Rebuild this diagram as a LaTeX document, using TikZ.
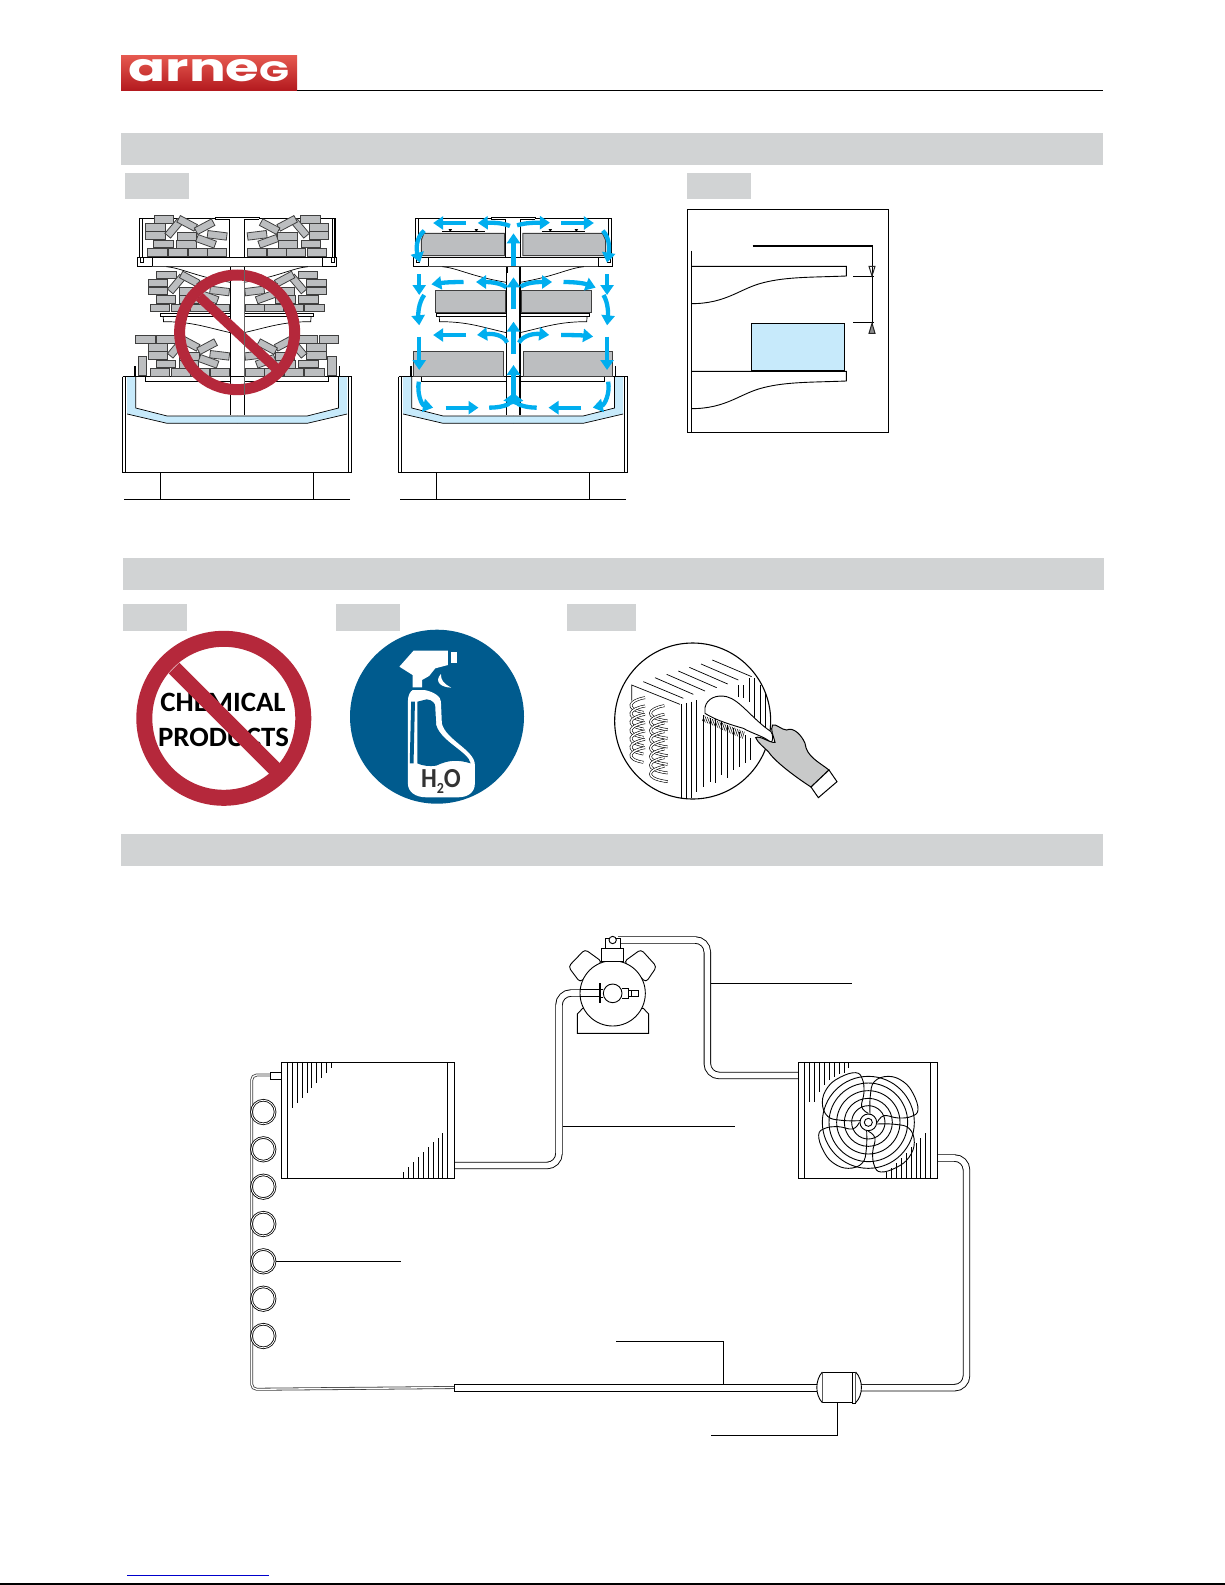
\documentclass[tikz,border=0pt]{standalone}
\usepackage{fontspec}
\usetikzlibrary{arrows.meta,shapes.geometric,calc}
\newfontfamily\carlitofont{Carlito}
\newfontfamily\poppinsfont{Poppins}
\definecolor{barg}{HTML}{D1D3D4}
\definecolor{brickg}{HTML}{BCBEC0}
\definecolor{brickl}{HTML}{3F3F3F}
\definecolor{tubb}{HTML}{C7EAFB}
\definecolor{airb}{HTML}{00AEEF}
\definecolor{nored}{HTML}{B5283B}
\definecolor{signb}{HTML}{005B8E}
\definecolor{glove}{HTML}{C8C9C9}
\definecolor{logoa}{HTML}{E65A50}
\definecolor{logob}{HTML}{DC1F26}
\definecolor{logoc}{HTML}{B3191E}
\tikzset{
 ln/.style={draw=black,line width=.9pt},
 thn/.style={draw=black,line width=.7pt},
 thk/.style={draw=black,line width=1.6pt},
 bar/.style={fill=barg,draw=none},
 brick/.style={fill=brickg,draw=brickl,line width=.8pt},
 prod/.style={fill=brickg,draw=brickl,line width=1pt},
 air/.style={draw=airb,line width=4.3pt,-{Triangle[length=10pt,width=13pt]}},
 pipe/.style={draw=black,line width=.9pt,double=white,double distance=5.6pt,rounded corners=12pt},
 capil/.style={draw=black!75,line width=.8pt,double=white,double distance=1.3pt,rounded corners=5pt},
 coilp/.style={draw=black,line width=.6pt,double=white,double distance=1.5pt},
 zoomA/.style={x=0.35714pt,y=-0.33333pt},
 zoomT/.style={x=0.33333pt,y=-0.33333pt},
 zoomC/.style={x=0.47193pt,y=-0.33333pt},
}
\newcommand\brickR[4]{\draw[brick] (#1,#2) rectangle (#3,#4);}
\newcommand\brickT[3]{\draw[brick,shift={(#1,#2)},rotate=#3] (-27,-11) rectangle (27,11);}
\newcommand\halfbricks{%
 \brickR{124}{527}{178}{549}\brickR{100}{551}{155}{573}\brickR{100}{575}{155}{597}%
 \brickR{122}{600}{177}{622}\brickR{105}{626}{160}{648}\brickR{164}{626}{218}{648}%
 \brickR{219}{626}{272}{648}\brickR{273}{626}{327}{648}\brickR{186}{600}{241}{624}%
 \brickR{188}{576}{242}{600}%
 \brickT{179}{565}{50}\brickT{216}{550}{-28}\brickT{265}{560}{28}\brickT{300}{586}{-7}\brickT{269}{604}{-20}%
}
\newcommand\sidebricks{%
 \halfbricks
 \begin{scope}[shift={(7,167)}]\halfbricks\end{scope}
 \begin{scope}[shift={(7,360)}]\halfbricks\end{scope}
 \brickR{72}{887}{127}{909}\brickR{79}{950}{102}{1007}%
}
\newcommand\halfshell{%
 % one half of the display, left side
 \draw[thn] (82,652)--(82,535)--(295,535)--(295,532)--(356,532);
 \draw[thn] (90,538)--(90,652);
 \draw[thn] (295,538)--(335,538)--(335,652);
 \draw[ln] (77,652) rectangle (118,680);
 \draw[thn] (85,652)--(85,668)--(92,668)--(92,652);
 \draw[thn] (118,652)--(356,652);
 \draw[line width=1.2pt,draw=black!75] (118,680)--(356,680);
 \draw[thn] (337,680)--(337,1125);
 \draw[thn] (158,680) .. controls (200,684) and (240,710) .. (337,727);
 \draw[thn] (142,820) rectangle (337,830);
 \draw[thn] (149,830)--(150,845) .. controls (230,845) and (270,862) .. (337,878);
 \draw[line width=1.1pt,black] (70,978)--(70,1010);
 \draw[thn] (100,1010)--(100,1025)--(337,1025);
 \fill[tubb] (48,1010)--(48,1122)--(160,1150)--(356,1150)--(356,1128)--(160,1128)--(72,1104)--(72,1010)--cycle;
 \draw[thn] (72,1010)--(72,1104)--(160,1128)--(356,1128);
 \draw[thn] (48,1122)--(160,1150)--(356,1150);
 \draw[thn] (44,1010)--(44,1298);
 \draw[ln] (35,1010)--(35,1298)--(356,1298);
 \draw[ln] (141,1298)--(141,1378);
 \draw[ln] (40,1378)--(356,1378);
}
\newcommand\shell{%
 \halfshell
 \begin{scope}[shift={(712,0)},xscale=-1]\halfshell\end{scope}
 \draw[thk] (35,1010)--(677,1010);
}
\begin{document}
\begin{tikzpicture}[x=1pt,y=-1pt]
\useasboundingbox (0,0) rectangle (1225,1585);
\fill[white] (0,0) rectangle (1225,1585);

%% header
\shade[top color=logoa,middle color=logob,bottom color=logoc] (121,55) rectangle (297,90.7);
\node[text=white,inner sep=0pt] (logo) at (209,70.5) {\scalebox{1.4}[1]{\poppinsfont\bfseries\fontsize{39}{39}\selectfont arne\raisebox{0pt}{\scalebox{.72}{G}}}};
\draw[line width=1pt] (297,90.5)--(1103,90.5);

%% section bars
\path[bar] (121,133) rectangle (1103,165);
\path[bar] (123,558) rectangle (1104,590);
\path[bar] (121,834) rectangle (1103,866);
\path[bar] (125,173) rectangle (189,199);
\path[bar] (687,173) rectangle (751,199);
\path[bar] (123,604) rectangle (187,631);
\path[bar] (336,604) rectangle (400,631);
\path[bar] (567,604) rectangle (636,631);

%% left display, overloaded
\begin{scope}[shift={(110,40)},zoomA]
 \shell
 \draw[line width=1.4pt,black] (628,535)--(628,668);
 \sidebricks
 \begin{scope}[shift={(712,0)},xscale=-1]\sidebricks\end{scope}
 \draw[nored,line width=11pt] (356,877) ellipse (161 and 172);
 \draw[nored,line width=10pt] (250,770)--(465,985);
 \draw[black!60,line width=.5pt] (375,690)--(375,1065);
\end{scope}

%% right display, correct load
\begin{scope}[shift={(386,40)},zoomA]
 \shell
 \draw[thk] (338,680)--(338,700);
 \draw[line width=1.5pt] (375,680)--(375,1125);
 % goods
 \draw[prod] (99,600)--(106,580)--(332,580)--(332,647)--(99,647)--cycle;
 \draw[prod] (383,580)--(606,580)--(615,600)--(615,647)--(383,647)--cycle;
 \draw[prod] (139,750) rectangle (335,817);
 \draw[prod] (379,750) rectangle (575,817);
 \draw[prod] (77,935) rectangle (329,1010);
 \draw[prod] (384,935) rectangle (635,1010);
 % small lamps
 \foreach \sx in {157,437}{
  \draw[thn] (\sx,574)--(\sx+120,574);
  \fill (\sx+18,567)--(\sx+28,567)--(\sx+23,576)--cycle;
  \fill (\sx+91,567)--(\sx+101,567)--(\sx+96,576)--cycle;
 }
 % air flow, top row
 \draw[air] (224,549)--(132,549);
 \draw[air] (347,558) .. controls (325,548) and (300,548) .. (257,549);
 \draw[air] (367,556) .. controls (390,548) and (420,548) .. (459,548);
 \draw[air] (490,549)--(582,549);
 \draw[air] (107,572) .. controls (82,595) and (85,630) .. (95,668);
 \draw[air] (607,572) .. controls (628,595) and (625,630) .. (619,668);
 \draw[air] (357,678)--(357,580);
 % middle row
 \draw[air] (217,726) .. controls (180,726) and (160,728) .. (127,733);
 \draw[air] (337,742) .. controls (320,728) and (290,726) .. (252,726);
 \draw[air] (377,740) .. controls (395,727) and (425,726) .. (465,726);
 \draw[air] (497,726) .. controls (530,726) and (555,730) .. (587,743);
 \draw[air] (93,703)--(93,765);
 \draw[air] (619,703)--(619,765);
 \draw[air] (107,765) .. controls (90,790) and (90,825) .. (93,856);
 \draw[air] (609,765) .. controls (623,790) and (622,825) .. (619,856);
 \draw[air] (357,808)--(357,712);
 % third row
 \draw[air] (224,885)--(132,885);
 \draw[air] (339,908) .. controls (330,885) and (300,880) .. (255,885);
 \draw[air] (372,908) .. controls (385,885) and (415,880) .. (457,885);
 \draw[air] (490,885) .. controls (520,885) and (550,886) .. (580,890);
 \draw[air] (93,890)--(93,990);
 \draw[air] (619,890)--(619,990);
 \draw[air] (357,942)--(357,845);
 % bottom
 \draw[air] (357,1090)--(357,975);
 \draw[air] (289,1103) .. controls (320,1103) and (345,1095) .. (356,1060);
 \draw[air] (422,1103) .. controls (395,1103) and (368,1095) .. (358,1060);
 \draw[air] (167,1103)--(259,1103);
 \draw[air] (547,1103)--(455,1103);
 \draw[air] (92,1025) .. controls (86,1060) and (100,1095) .. (132,1103);
 \draw[air] (622,1025) .. controls (628,1060) and (612,1095) .. (579,1103);
\end{scope}

%% shelf distance detail
\begin{scope}[shift={(670,160)},zoomT]
 \draw[ln] (52,149) rectangle (655,817);
 \draw[ln] (64,272)--(64,817);
 \foreach \dy in {0,315}{
  \draw[ln] (64,319+\dy)--(529,319+\dy)--(529,348+\dy) .. controls (430,352+\dy) and (350,350+\dy) .. (280,368+\dy) .. controls (210,385+\dy) and (170,431+\dy) .. (64,431+\dy);
 }
 \draw[fill=tubb,line width=.9pt] (244,490) rectangle (524,632);
 \draw[thk] (244,633)--(524,633);
 \draw[line width=2pt] (248,258)--(608,258);
 \draw[ln] (608,258)--(608,520);
 \draw[ln] (550,350)--(612,350);
 \draw[ln] (550,488)--(612,488);
 \draw[line width=1pt,draw=black!85] (597,319)--(615,319)--(606,348)--cycle;
 \draw[line width=1pt,draw=black!85,fill=black!45] (597,520)--(615,520)--(606,490)--cycle;
\end{scope}

%% no chemical products
\node[inner sep=0pt] (chem) at (223,702) {\scalebox{1.03}[1]{\carlitofont\bfseries\fontsize{28}{28}\selectfont CHEMICAL}};
\node[inner sep=0pt] (prods) at (223.5,737) {\scalebox{1.03}[1]{\carlitofont\bfseries\fontsize{28}{28}\selectfont PRODUCTS}};
\draw[nored,line width=16pt] (223.8,718.3) circle (79.5);
\draw[nored,line width=15pt] (174,668)--(276,770);

%% water spray sign
\fill[signb] (437,716.7) circle (87);
\begin{scope}[shift={(120,600)},zoomC]
 \fill[white] (622,152)--(695,152)--(695,195)--(668,205)--(655,228)--(640,240)--(640,262)--(620,262)--(620,225)--(592,200)--cycle;
 \fill[white] (702,155) rectangle (714,190);
 \fill[white] (680,222) .. controls (665,245) and (680,262) .. (702,263) .. controls (685,250) and (680,240) .. (680,222)--cycle;
 \fill[white] (620,270)--(645,270) .. controls (665,275) and (680,290) .. (680,305)--(682,370) .. controls (690,420) and (752,450) .. (752,495)--(752,550) .. controls (752,580) and (735,592) .. (715,592)--(650,592) .. controls (625,592) and (610,575) .. (610,550)--(610,305) .. controls (610,285) and (615,275) .. (620,270)--cycle;
 \fill[signb] (630,305)--(650,298) .. controls (662,300) and (668,310) .. (668,320)--(670,375) .. controls (680,425) and (738,455) .. (743,490) .. controls (715,478) and (695,480) .. (670,497) .. controls (655,500) and (640,497) .. (630,490)--cycle;
 \fill[signb] (617,305)--(625,305)--(622,490)--(614,490)--cycle;
 \node[inner sep=0pt,text=black!80] (water) at (680,543) {\scalebox{1}[1.1]{\carlitofont\bfseries\fontsize{25}{25}\selectfont H\raisebox{-.22em}{\fontsize{14}{14}\selectfont 2}O}};
\end{scope}

%% coil cleaning
\begin{scope}[shift={(605,635)},zoomT]
 \draw[line width=1.1pt] (263,258) circle (234);
 \draw[thn] (80,197)--(80,150)--(225,208);
 \foreach \xa/\ya/\xb/\yb in {115/140/235/190,150/128/265/178,185/118/300/168,220/108/335/158,253/97/368/147,288/87/400/135,322/75/440/125}
  \draw[thn] (\xa,\ya)--(\xb,\yb);
 \foreach \xv/\ya/\yb in {228/208/489,243/205/491,258/200/489,275/195/470,295/240/455,315/250/440,332/250/445,350/260/420,367/270/430,385/280/405,402/290/395,420/300/385,437/310/375,
   400/150/185,415/150/190,432/130/200,448/130/250,465/150/270,480/170/290}
  \draw[thn] (\xv,\ya)--(\xv,\yb);
 \foreach \i in {0,...,6}{
  \draw[coilp] (120,{188+25*\i}) .. controls (72,{196+25*\i}) and (58,{222+25*\i}) .. (115,{232+25*\i});
 }
 \foreach \i in {0,...,7}{
  \draw[coilp] (178,{212+26*\i}) .. controls (130,{220+26*\i}) and (112,{248+26*\i}) .. (188,{258+26*\i});
 }
 % brush
 \foreach \i in {0,...,24}
  \draw[line width=.5pt] ({298+\i*5},{242+\i*2})--({292+\i*5},{258+\i*2.2});
 \draw[fill=white,line width=.9pt] (300,218) .. controls (305,190) and (335,178) .. (365,185) .. controls (405,195) and (440,250) .. (498,290) .. controls (505,300) and (505,320) .. (497,322) .. controls (480,305) and (440,295) .. (415,280) .. controls (380,270) and (330,255) .. (300,235)--cycle;
 % hand
 \draw[fill=glove,line width=1pt] (452,308) .. controls (465,300) and (495,325) .. (510,322) .. controls (505,300) and (495,285) .. (503,270) .. controls (512,265) and (530,285) .. (545,285) .. controls (565,275) and (590,300) .. (600,325) .. controls (605,365) and (640,380) .. (672,405)--(618,456) .. controls (570,425) and (510,380) .. (490,350) .. controls (475,335) and (460,325) .. (452,308)--cycle;
 \draw[fill=white,line width=1pt] (672,405)--(696,440)--(640,488)--(618,456)--cycle;
\end{scope}

%% refrigeration circuit
% pipes
\draw[pipe] (454,1165.5)--(559,1165.5)--(559,993)--(598,993);
\draw[pipe] (618,940)--(707.3,940)--(707.3,1075.5)--(798,1075.5);
\draw[pipe] (938,1158)--(966.5,1158)--(966.5,1387.7)--(850,1387.7);
\draw[capil] (454,1387.5)--(251.7,1389.3)--(251.7,1075)--(272,1075);
\draw[ln] (454,1384.4)--(818,1384.4) (454,1391.1)--(818,1391.1);
\draw[ln] (454,1384.4)--(454,1391.1);
% expansion coils
\foreach \cy in {1112,1149.3,1186.7,1224,1261.3,1298.7,1336}
 \draw[draw=black,line width=.8pt,double=white,double distance=.9pt] (263.3,\cy) circle (11.8);
\draw[ln,fill=white] (270.7,1072) rectangle (281.3,1079.3);

% evaporator
\begin{scope}[shift={(230,1050)},zoomT]
 \draw[ln,fill=white] (154,37) rectangle (673,385);
 \draw[ln] (172,37)--(172,385) (652,37)--(652,385);
 \foreach \xv/\yv in {187/173,202/158,217/143,232/128,245/113,260/98,275/85,290/70,305/55}
  \draw[thn] (\xv,37)--(\xv,\yv);
 \foreach \xv/\yv in {520/367,535/352,550/337,565/322,580/307,595/292,610/277,625/263,638/248}
  \draw[thn] (\xv,385)--(\xv,\yv);
\end{scope}

% compressor and condenser
\begin{scope}[shift={(540,920)},zoomT]
 \draw[ln,rounded corners=3.5pt,fill=white] (120,187)--(85,140)--(135,88)--(186,125)--cycle;
 \draw[ln,rounded corners=3.5pt,fill=white] (318,187)--(350,140)--(303,88)--(252,125)--cycle;
 \draw[ln,fill=white] (128,265)--(112,282)--(112,340)--(326,340)--(326,282)--(310,265)--cycle;
 \draw[ln,fill=white] (218,220) circle (98);
 \draw[ln,fill=white] (185,85) rectangle (250,125);
 \draw[ln,fill=white] (196,55) rectangle (240,85);
 \draw[ln,fill=white] (218,60) circle (11);
 \draw[ln] (120,209)--(178,209) (120,229)--(178,229);
 \draw[line width=2pt] (180,190)--(180,248);
 \draw[ln,fill=white] (218,220) circle (28);
 \draw[ln] (180,208)--(190,208) (180,232)--(190,232);
 \draw[ln] (245,205)--(265,205)--(265,235)--(245,235);
 \draw[ln] (265,212) rectangle (296,228);
 \draw[ln] (275,212)--(275,228);
 % condenser
 \draw[ln,fill=white] (775,427) rectangle (1192,775);
 \draw[ln] (793,427)--(793,775) (1172,427)--(1172,775);
 \foreach \xv/\yv in {808/545,823/545,838/515,853/495,868/480,883/470,898/462,912/458,926/445}
  \draw[thn] (\xv,427)--(\xv,\yv);
 \foreach \xv/\yv in {1155/640,1142/655,1128/670,1113/680,1100/700,1085/715,1070/730,1055/745,1040/755}
  \draw[thn] (\xv,775)--(\xv,\yv);
 \foreach \rr in {12,25,50,72,95,118,138}
  \draw[ln] (985,607) circle (\rr);
 \foreach \ang in {0,90,180,270}{
  \begin{scope}[shift={(985,607)},rotate=\ang]
   \draw[line width=.9pt] plot[smooth,tension=.7] coordinates {(-25,-5) (-80,-6) (-122,-18) (-138,-60) (-122,-105) (-85,-135) (-38,-149) (-18,-130) (-13,-90) (-20,-47) (0,-27)};
  \end{scope}
 }
\end{scope}

% receiver
\begin{scope}[shift={(600,1320)},zoomT]
 \draw[ln,fill=white] (667,156) rectangle (757,248);
 \draw[ln,fill=white] (667,156) .. controls (645,180) and (645,225) .. (667,248);
 \draw[ln,fill=white] (757,156) rectangle (767,250);
 \draw[ln,fill=white] (767,156) .. controls (790,180) and (790,225) .. (767,248);
\end{scope}

% leaders
\coordinate (ldA) at (710.7,983.3);
\coordinate (ldAe) at (852.3,983.3);
\draw[ln] (ldA)--(ldAe);
\coordinate (ldB) at (562.7,1126.7);
\coordinate (ldBe) at (735.3,1126.7);
\draw[ln] (ldB)--(ldBe);
\coordinate (ldC) at (276,1261.3);
\coordinate (ldCe) at (400.7,1261.3);
\draw[ln] (ldC)--(ldCe);
\coordinate (ldD) at (723.3,1384);
\coordinate (ldDe) at (615.7,1341.3);
\draw[ln] (ldD)|-(ldDe);
\coordinate (ldF) at (837.7,1402.7);
\coordinate (ldFe) at (711,1435.3);
\draw[ln] (ldF)|-(ldFe);

%% page foot
\draw[line width=1pt,draw=blue!80!black] (127,1575.3)--(269,1575.3);
\fill[black] (0,1583.2) rectangle (1225,1585);
\end{tikzpicture}
\end{document}
